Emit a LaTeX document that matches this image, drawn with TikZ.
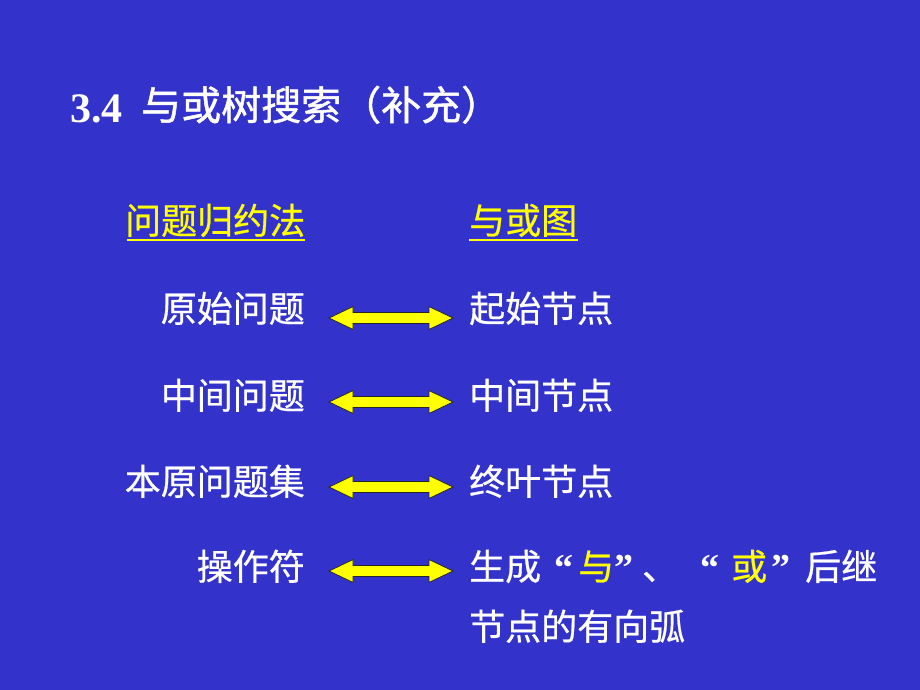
\documentclass[tikz,border=0pt]{standalone}
\usepackage{fontspec}
\setmainfont{Liberation Serif}
\newfontfamily\cjk{Noto Sans CJK SC}[FakeBold=0.6]
\newfontfamily\cjkt{Noto Sans CJK SC}[FakeBold=1.2]
\usetikzlibrary{calc}
\definecolor{bg}{HTML}{3333CC}
\definecolor{yel}{HTML}{FFFF00}
\begin{document}
\begin{tikzpicture}[x=1pt,y=-1pt,
  lbl/.style={inner sep=0pt, text=white, font=\cjk\fontsize{36}{40}\selectfont},
  lft/.style={lbl, anchor=base east},
  rgt/.style={lbl, anchor=base west},
  hdr/.style={lbl, text=yel, anchor=base west},
  qt/.style={inner sep=0pt, text=white, anchor=base west, font=\bfseries\fontsize{38}{40}\selectfont},
  ttl/.style={inner sep=0pt, text=white, anchor=base west, font=\cjkt\fontsize{40}{44}\selectfont},
  uline/.style={draw=yel, line width=2pt},
  fatarrow/.style={fill=yel, draw=black!85, line width=0.8pt, line join=miter},
  dblarrow/.pic={
    \path[fatarrow] (-62,0) -- (-38,11.5) -- (-38,5.5) -- (38,5.5) -- (38,11.5) -- (62,0)
      -- (38,-11.5) -- (38,-5.5) -- (-38,-5.5) -- (-38,-11.5) -- cycle;
  }
]
\fill[bg] (0,0) rectangle (920,690);
\useasboundingbox (0,0) rectangle (920,690);

% title
\node[inner sep=0pt, text=white, anchor=base west, font=\bfseries\fontsize{42}{46}\selectfont] (num) at (70,122) {3.4};
\node[ttl] (title) at (141,120) {与或树搜索（补充）};

% headers
\node[hdr] (h1) at (125,234) {问题归约法};
\node[hdr] (h2) at (469,234) {与或图};
\draw[uline] ($(h1.base west)+(2,5.5)$) -- ($(h1.base east)+(0,5.5)$);
\draw[uline] ($(h2.base west)+(0,5.5)$) -- ($(h2.base east)+(1,5.5)$);

% rows
\node[lft] (l1) at (305,322) {原始问题};
\node[rgt] (r1) at (469,322) {起始节点};
\node[lft] (l2) at (305,409) {中间问题};
\node[rgt] (r2) at (469,409) {中间节点};
\node[lft] (l3) at (305,495) {本原问题集};
\node[rgt] (r3) at (469,495) {终叶节点};
\node[lft] (l4) at (305,580) {操作符};

\node[rgt] (r4a) at (469,580) {生成};
\node[qt] (q1) at (554,580) {“};
\node[rgt, text=yel] (r4b) at (578,580) {与};
\node[qt] (q2) at (614,580) {”};
\node[rgt] (r4c) at (642,580) {、};
\node[qt] (q3) at (700,580) {“};
\node[rgt, text=yel] (r4d) at (731,580) {或};
\node[qt] (q4) at (771,580) {”};
\node[rgt] (r4e) at (805,580) {后继};
\node[rgt] (r5) at (469,640) {节点的有向弧};

% fat double arrows
\pic at (391,318) {dblarrow};
\pic at (391,402) {dblarrow};
\pic at (391,487) {dblarrow};
\pic at (391,571) {dblarrow};
\end{tikzpicture}
\end{document}
